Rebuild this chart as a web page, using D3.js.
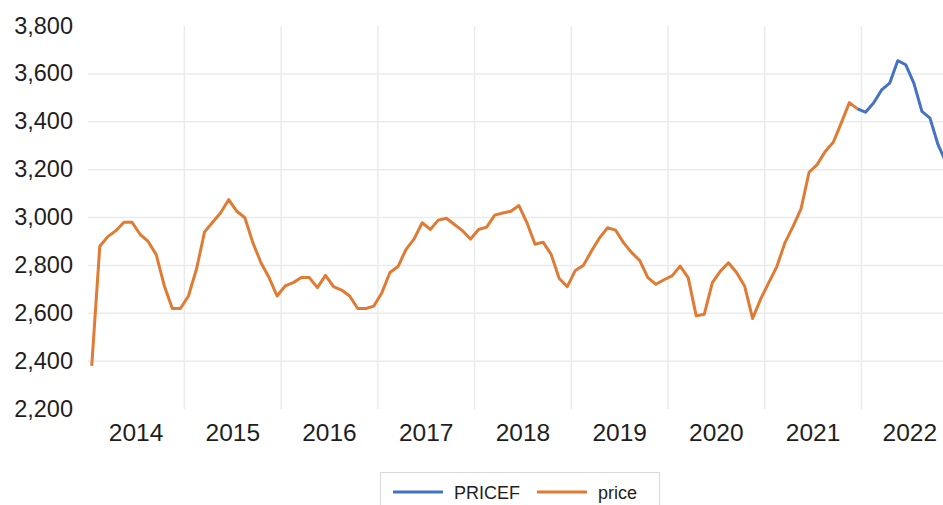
<!DOCTYPE html>
<html>
<head>
<meta charset="utf-8">
<script src="https://cdn.jsdelivr.net/npm/d3@7"></script>
<style>
    body { margin: 0; background: #fff; }
    svg { display: block; }
</style>
</head>
<body>
<div id="price_graph"></div>
<script>
// monthly values
const yearLabels = ["2014", "2015", "2016", "2017", "2018", "2019", "2020", "2021", "2022"];
const yTicks = [2200, 2400, 2600, 2800, 3000, 3200, 3400, 3600, 3800];
const priceStart = "2014-01";
const priceValues = [
    2380, 2880, 2920, 2945, 2980, 2980, 2930, 2900, 2845, 2715, 2620, 2620,
    2672, 2785, 2940, 2980, 3020, 3075, 3026, 2999, 2894, 2811, 2749, 2672,
    2714, 2728, 2749, 2749, 2707, 2758, 2711, 2697, 2672, 2620, 2620, 2630,
    2686, 2770, 2795, 2867, 2911, 2978, 2950, 2989, 2997, 2971, 2945, 2910,
    2950, 2960, 3010, 3019, 3026, 3050, 2978, 2888, 2897, 2846, 2745, 2711,
    2779, 2800, 2860, 2915, 2957, 2947, 2894, 2853, 2820, 2749, 2721, 2740,
    2756, 2797, 2749, 2589, 2596, 2728, 2776, 2811, 2770, 2714, 2578, 2660,
    2728, 2795, 2894, 2962, 3036, 3189, 3221, 3276, 3314, 3395, 3480, 3454
];
const pricefStart = "2021-12";
const pricefValues = [3454, 3440, 3478, 3533, 3561, 3655, 3638, 3561, 3443, 3415, 3304, 3230];
const seriesNames = ["PRICEF", "price"];
const seriesColors = ["#4472C4", "#E07B34"];

function graph_price(){
    const width = 943;
    const height = 505;
    const margin = {top: 26, right: 0, bottom: 96, left: 87.7};
    const slot = 8.06;

    const parse = d3.timeParse("%Y-%m");
    const fmt = d3.timeFormat("%Y-%m");
    const months = d3.timeMonths(parse("2014-01"), parse("2023-01")).map(fmt);

    const toPoints = (start, values) => {
        const i0 = months.indexOf(start);
        return values.map((v, i) => ({m: months[i0 + i], v: v}));
    };
    const price = toPoints(priceStart, priceValues);
    const pricef = toPoints(pricefStart, pricefValues);

    const svg = d3.select("#price_graph")
        .append("svg")
        .attr("width", width)
        .attr("height", height)
        .attr("viewBox", [0, 0, width, height]);

    const x = d3.scaleBand()
        .domain(months)
        .range([margin.left, margin.left + slot * months.length]);

    const y = d3.scaleLinear()
        .domain([2200, 3800])
        .range([height - margin.bottom, margin.top]);

    // grid
    svg.append("g")
        .selectAll("line")
        .data(yTicks.filter(t => t > 2200 && t < 3800))
        .join("line")
        .attr("x1", margin.left)
        .attr("x2", width)
        .attr("y1", d => y(d))
        .attr("y2", d => y(d))
        .attr("stroke", "#ebebeb")
        .attr("stroke-width", 1.5);

    svg.append("g")
        .selectAll("line")
        .data(yearLabels.slice(1))
        .join("line")
        .attr("x1", d => x(d + "-01"))
        .attr("x2", d => x(d + "-01"))
        .attr("y1", y(3800))
        .attr("y2", y(2200))
        .attr("stroke", "#ebebeb")
        .attr("stroke-width", 1.5);

    // axes
    svg.append("g")
        .attr("transform", `translate(73,0)`)
        .call(d3.axisLeft(y).tickValues(yTicks).tickFormat(d3.format(",")).tickSize(0).tickPadding(0))
        .call(g => g.select(".domain").remove())
        .attr("font-family", "Liberation Sans, Arial, sans-serif")
        .attr("font-size", "23.5px")
        .call(g => g.selectAll("text").attr("fill", "#1e1e1e").attr("dy", "0.3em"));

    svg.append("g")
        .selectAll("text")
        .data(yearLabels)
        .join("text")
        .attr("x", d => x(d + "-01") + slot * 6)
        .attr("y", 441)
        .attr("text-anchor", "middle")
        .attr("font-family", "Liberation Sans, Arial, sans-serif")
        .attr("font-size", "24.5px")
        .attr("fill", "#1e1e1e")
        .text(d => d);

    // lines
    const line = d3.line()
        .x(d => x(d.m) + x.bandwidth() / 2)
        .y(d => y(d.v));

    svg.append("path")
        .datum(pricef)
        .attr("fill", "none")
        .attr("stroke", seriesColors[0])
        .attr("stroke-width", 3)
        .attr("stroke-linejoin", "round")
        .attr("d", line);

    svg.append("path")
        .datum(price)
        .attr("fill", "none")
        .attr("stroke", seriesColors[1])
        .attr("stroke-width", 3)
        .attr("stroke-linejoin", "round")
        .attr("d", line);

    // legend
    const legend = svg.append("g");
    legend.append("rect")
        .attr("x", 380.5)
        .attr("y", 472.5)
        .attr("width", 279)
        .attr("height", 40)
        .attr("fill", "#fff")
        .attr("stroke", "#d9d9d9");

    const items = [
        {name: seriesNames[0], color: seriesColors[0], x: 393},
        {name: seriesNames[1], color: seriesColors[1], x: 537}
    ];
    const item = legend.selectAll("g")
        .data(items)
        .join("g")
        .attr("transform", d => `translate(${d.x},492)`);
    item.append("line")
        .attr("x1", 0)
        .attr("x2", 50)
        .attr("stroke", d => d.color)
        .attr("stroke-width", 3);
    item.append("text")
        .attr("x", 61)
        .attr("y", 6.5)
        .attr("font-family", "Liberation Sans, Arial, sans-serif")
        .attr("font-size", "18px")
        .attr("fill", "#1e1e1e")
        .text(d => d.name);
}

graph_price();
</script>
</body>
</html>
